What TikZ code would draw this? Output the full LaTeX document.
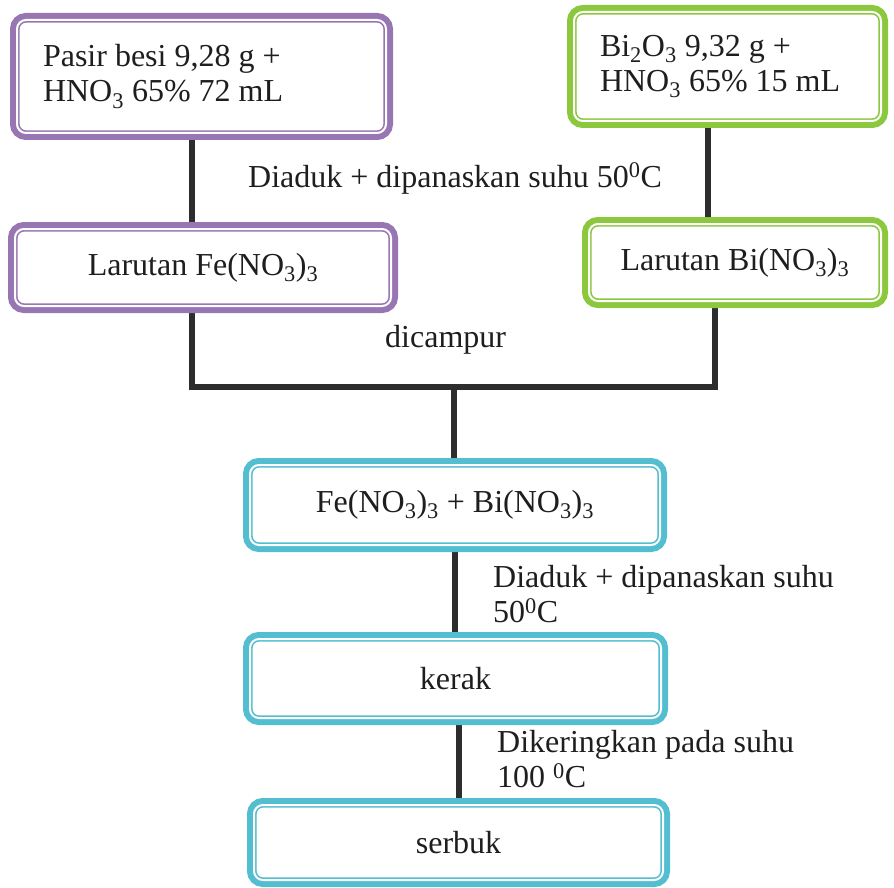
\documentclass[tikz,border=0pt]{standalone}
\usepackage{fontspec}
\setmainfont{Liberation Serif}
\usetikzlibrary{backgrounds}
\definecolor{purp}{RGB}{152,118,180}
\definecolor{grn}{RGB}{140,200,62}
\definecolor{cyn}{RGB}{82,190,208}
\definecolor{ln}{RGB}{45,45,45}
\definecolor{txt}{RGB}{30,30,30}
\newcommand{\sbs}[1]{\textsubscript{#1}}
\newcommand{\dgr}{\textsuperscript{0}}
\begin{document}
\begin{tikzpicture}[x=1pt,y=-1pt,
  font=\fontsize{32}{35}\selectfont, text=txt,
  boxc/.style={preaction={draw=#1, line width=14pt}, fill=white, draw=#1,
     double=white, double distance=2pt, line width=1.6pt,
     rounded corners=9pt, inner sep=0pt, align=center},
  boxl/.style={boxc=#1, align=flush left, inner xsep=26pt},
  conn/.style={draw=ln, line width=6pt},
  lbl/.style={inner sep=0pt, align=left}]
\useasboundingbox (0,0) rectangle (894,888);

\node[boxl=purp, minimum width=369pt, minimum height=113pt, text width=317pt] (b1) at (201.5,76.5)
  {Pasir besi 9,28 g +\\HNO\sbs{3} 65\% 72 mL};
\node[boxl=grn, minimum width=307pt, minimum height=109pt, text width=255pt] (b2) at (727.5,66.5)
  {Bi\sbs{2}O\sbs{3} 9,32 g +\\HNO\sbs{3} 65\% 15 mL};
\node[boxc=purp, minimum width=376pt, minimum height=77pt] (b3) at (203,267.5)
  {Larutan Fe(NO\sbs{3})\sbs{3}};
\node[boxc=grn, minimum width=292pt, minimum height=77pt] (b4) at (735,262.5)
  {Larutan Bi(NO\sbs{3})\sbs{3}};
\node[boxc=cyn, minimum width=410pt, minimum height=80pt] (b5) at (455,505)
  {Fe(NO\sbs{3})\sbs{3} + Bi(NO\sbs{3})\sbs{3}};
\node[boxc=cyn, minimum width=411pt, minimum height=79pt] (b6) at (455.5,678.5)
  {kerak};
\node[boxc=cyn, minimum width=409pt, minimum height=75pt] (b7) at (458.5,842.5)
  {serbuk};

\coordinate (xa) at (192,0);
\coordinate (xb) at (708,0);
\coordinate (xc) at (715,0);
\coordinate (mid) at (454,387);

\begin{scope}[on background layer]
  \draw[conn] (b1.south -| xa) -- (b3.north -| xa);
  \draw[conn] (b2.south -| xb) -- (b4.north -| xb);
  \draw[conn] (b3.south -| xa) |- (mid) -| (b4.south -| xc);
  \draw[conn] (mid) -- (b5.north -| mid);
  \draw[conn] (b5.south) -- (b5.south |- b6.north);
  \draw[conn] (b6.south -| b7.north) -- (b7.north);
\end{scope}

\node[lbl, anchor=base west] (l1) at (248,187) {Diaduk + dipanaskan suhu 50\dgr C};
\node[lbl, anchor=base west] (l2) at (385,347) {dicampur};
\node[lbl, anchor=north west] (l3) at (493,565) {Diaduk + dipanaskan suhu\\50\dgr C};
\node[lbl, anchor=north west] (l4) at (497,730) {Dikeringkan pada suhu\\100 \dgr C};
\end{tikzpicture}
\end{document}
